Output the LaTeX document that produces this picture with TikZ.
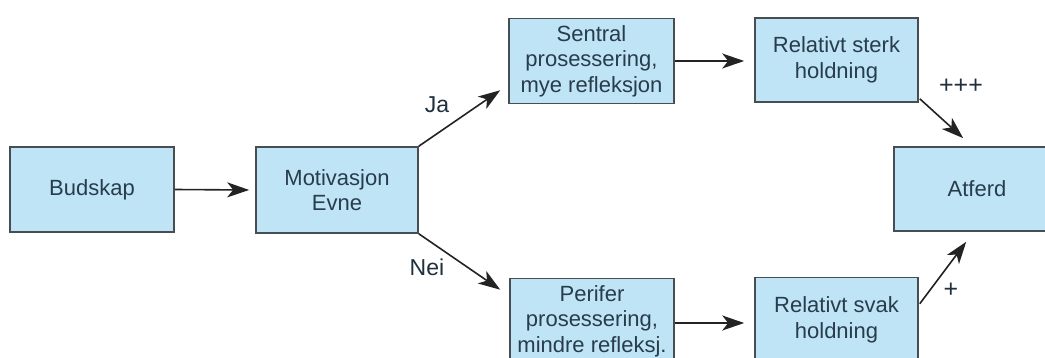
\documentclass[tikz,border=0pt]{standalone}
\usepackage{fontspec}
\setmainfont{Liberation Sans}
\usetikzlibrary{arrows.meta,calc}
\definecolor{boxfill}{RGB}{190,228,246}
\definecolor{boxline}{RGB}{70,78,84}
\definecolor{txt}{RGB}{40,60,76}
\definecolor{arrcol}{RGB}{35,35,35}
\tikzset{
  box/.style={draw=boxline, line width=1.6pt, fill=boxfill, text=txt,
    minimum width=164pt, minimum height=85pt, align=center, inner sep=2pt,
    font=\fontsize{22pt}{25.5pt}\selectfont},
  arr/.style={draw=arrcol, line width=1.6pt,
    -{Stealth[length=22pt,width=15pt,inset=6pt]}},
  lbl/.style={text=txt!80!black, font=\fontsize{23pt}{26pt}\selectfont, inner sep=0pt}
}
\begin{document}
\begin{tikzpicture}[x=1pt,y=-1pt]
\useasboundingbox (0,0) rectangle (1045,358);
\fill[white] (0,0) rectangle (1045,358);
\clip (0,0) rectangle (1045,358);
\node[box] (bud) at (92,189.5) {Budskap};
\node[box, minimum width=162pt, minimum height=86pt] (mot) at (337,190) {Motivasjon\\Evne};
\node[box, minimum width=165pt] (sen) at (591.5,61) {Sentral\\prosessering,\\mye refleksjon};
\node[box, minimum width=163pt, minimum height=84pt] (stk) at (836.5,60) {Relativt sterk\\holdning};
\node[box, minimum width=166pt, minimum height=84pt] (atf) at (977,189) {Atferd};
\node[box] (per) at (592,321) {Perifer\\prosessering,\\mindre refleksj.};
\node[box, minimum width=163pt] (svk) at (836.5,320) {Relativt svak\\holdning};
\draw[arr] (bud.east) -- ($(mot.west)+(-6,0)$);
\draw[arr] (mot.north east) -- ($(sen.south west)+(-8,-14)$);
\draw[arr] (mot.south east) -- ($(per.north west)+(-9,12)$);
\draw[arr] (sen.east) -- ($(sen.east -| stk.west)+(-10,0)$);
\draw[arr] ($(per.east)+(0,2)$) -- ($(per.east -| svk.west)+(-10,2)$);
\draw[arr] ($(stk.south east)+(1,-4)$) -- ($(atf.north west)+(70,-8)$);
\draw[arr] ($(svk.north east)+(1,27)$) -- ($(atf.south west)+(73,10)$);
\node[lbl] (ja) at (437,105) {Ja};
\node[lbl] (nei) at (427,267) {Nei};
\node[lbl, font=\fontsize{25pt}{27pt}\selectfont] (ppp) at (961,86) {+++};
\node[lbl, font=\fontsize{25pt}{27pt}\selectfont] (p) at (951,290) {+};
\end{tikzpicture}
\end{document}
